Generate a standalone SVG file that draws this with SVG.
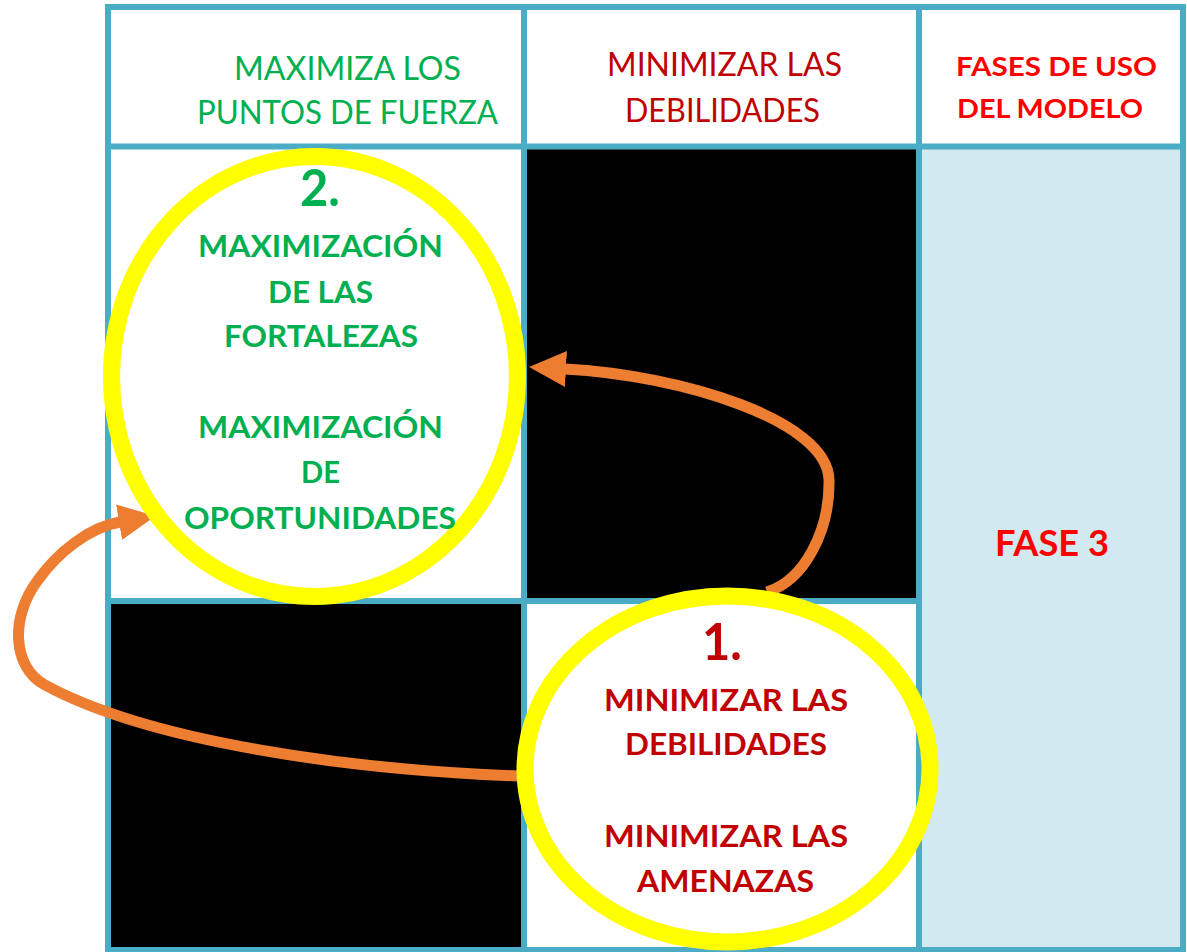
<svg xmlns="http://www.w3.org/2000/svg" width="1187" height="952" viewBox="0 0 1187 952">
<style>
.grid{stroke:#4BACC6;stroke-width:6;fill:none;stroke-linecap:square}
.ring{fill:none;stroke:#FFFF00;stroke-width:17}
.arrow{fill:none;stroke:#ED7D31;stroke-width:11}
.t{font-family:Lato,"Open Sans","Liberation Sans",sans-serif;text-anchor:middle}
.hd{font-size:32px}
.b{font-weight:bold}
.g{fill:#00B050}
.dr{fill:#C00000}
.r{fill:#FF0000}
</style>
<defs>
<marker id="ah" markerUnits="userSpaceOnUse" markerWidth="40" markerHeight="40" refX="1" refY="18" orient="auto">
<path d="M0,0 L37,18 L0,36 Z" fill="#ED7D31"/>
</marker>
</defs>
<rect width="1187" height="952" fill="#FFFFFF"/>
<g id="cells">
<rect x="524" y="146" width="395" height="455" fill="#000000"/>
<rect x="108" y="601" width="416" height="349" fill="#000000"/>
<rect x="919" y="146" width="264" height="804" fill="#D2E9F0"/>
</g>
<g id="grid">
<rect class="grid" x="108" y="7" width="1075" height="943"/>
<line class="grid" x1="108" y1="146.5" x2="1183" y2="146.5"/>
<line class="grid" x1="108" y1="601" x2="919" y2="601"/>
<line class="grid" x1="524" y1="7" x2="524" y2="950"/>
<line class="grid" x1="919" y1="7" x2="919" y2="950"/>
</g>
<g id="connectors">
<path class="arrow" d="M767,592 C805,580 830,530 829,480 C828,420 680,375 565,369" marker-end="url(#ah)"/>
<path class="arrow" d="M519,776 C350,770 150,742 45,685 C12,667 10,617 38,580 C58,552 90,527 120,522" marker-end="url(#ah)"/>
</g>
<g id="header-fortalezas">
<text class="t hd g" x="347.5" y="80" textLength="227" lengthAdjust="spacingAndGlyphs">MAXIMIZA LOS</text>
<text class="t hd g" x="347.5" y="124" textLength="301" lengthAdjust="spacingAndGlyphs">PUNTOS DE FUERZA</text>
</g>
<g id="header-debilidades">
<text class="t hd dr" x="724.5" y="76" textLength="235" lengthAdjust="spacingAndGlyphs">MINIMIZAR LAS</text>
<text class="t hd dr" x="722.5" y="122" textLength="195" lengthAdjust="spacingAndGlyphs">DEBILIDADES</text>
</g>
<g id="header-fases">
<text class="t b r" style="font-size:27px" x="1056.5" y="76" textLength="201" lengthAdjust="spacingAndGlyphs">FASES DE USO</text>
<text class="t b r" style="font-size:27px" x="1050" y="118" textLength="186" lengthAdjust="spacingAndGlyphs">DEL MODELO</text>
</g>
<g id="fase3">
<text class="t b r" style="font-size:36px" x="1052" y="556" textLength="114" lengthAdjust="spacingAndGlyphs">FASE 3</text>
</g>
<g id="node-2">
<ellipse class="ring" cx="314.5" cy="376.5" rx="203" ry="220"/>
<text class="t b g" style="font-size:51px" x="320" y="206" textLength="40" lengthAdjust="spacingAndGlyphs">2.</text>
<text class="t b g" style="font-size:30px" x="320.5" y="257" textLength="245" lengthAdjust="spacingAndGlyphs">MAXIMIZACIÓN</text>
<text class="t b g" style="font-size:30px" x="320.5" y="302.5" textLength="105" lengthAdjust="spacingAndGlyphs">DE LAS</text>
<text class="t b g" style="font-size:30px" x="321" y="347" textLength="194" lengthAdjust="spacingAndGlyphs">FORTALEZAS</text>
<text class="t b g" style="font-size:30px" x="320.5" y="438" textLength="245" lengthAdjust="spacingAndGlyphs">MAXIMIZACIÓN</text>
<text class="t b g" style="font-size:30px" x="320.5" y="483" textLength="39" lengthAdjust="spacingAndGlyphs">DE</text>
<text class="t b g" style="font-size:30px" x="320" y="529" textLength="272" lengthAdjust="spacingAndGlyphs">OPORTUNIDADES</text>
</g>
<g id="node-1">
<ellipse class="ring" cx="727.5" cy="769" rx="202.5" ry="173"/>
<text class="t b dr" style="font-size:51px" x="722" y="660" textLength="40" lengthAdjust="spacingAndGlyphs">1.</text>
<text class="t b dr" style="font-size:30px" x="726" y="711" textLength="244" lengthAdjust="spacingAndGlyphs">MINIMIZAR LAS</text>
<text class="t b dr" style="font-size:30px" x="726" y="755" textLength="202" lengthAdjust="spacingAndGlyphs">DEBILIDADES</text>
<text class="t b dr" style="font-size:30px" x="726" y="847" textLength="244" lengthAdjust="spacingAndGlyphs">MINIMIZAR LAS</text>
<text class="t b dr" style="font-size:30px" x="725.5" y="892" textLength="177" lengthAdjust="spacingAndGlyphs">AMENAZAS</text>
</g>
</svg>
